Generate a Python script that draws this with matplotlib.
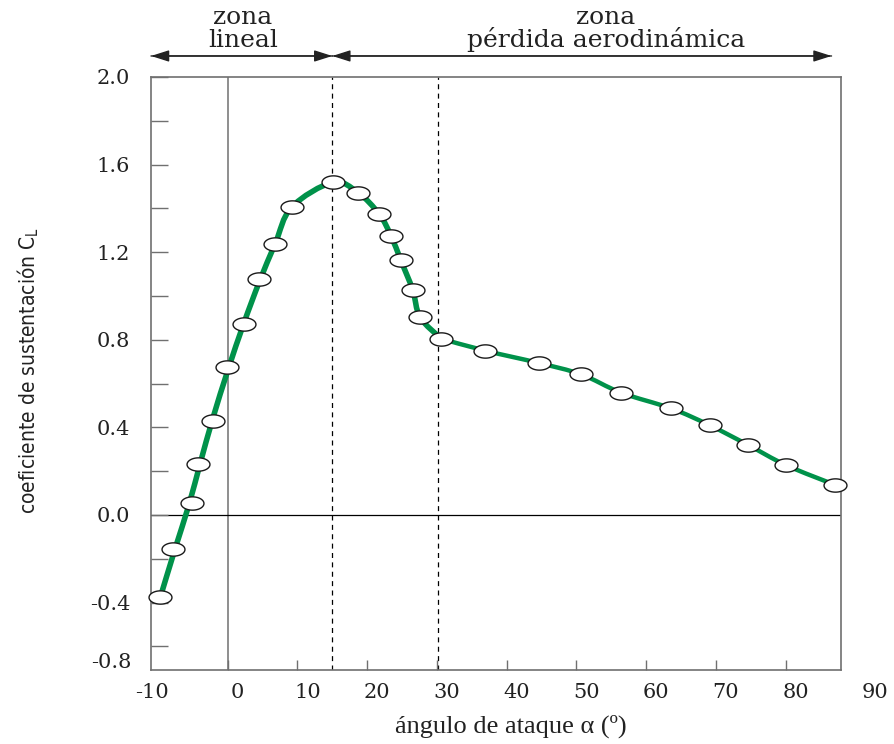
import numpy as np
import matplotlib
matplotlib.use("Agg")
import matplotlib.pyplot as plt
from matplotlib.path import Path
from matplotlib.patches import PathPatch
from matplotlib.transforms import ScaledTranslation

# ---- data ----
alpha = [-9.64, -7.80, -5.08, -4.26, -2.11, -0.03, 2.38, 4.53, 6.79, 9.18,
         15.06, 18.69, 21.75, 23.43, 24.82, 26.54, 27.59, 30.60,
         36.96, 44.62, 50.69, 56.43, 63.56, 69.10, 74.55, 80.10, 87.13]
cl = [-0.373, -0.157, 0.056, 0.233, 0.429, 0.676, 0.874, 1.078, 1.237, 1.406,
      1.519, 1.472, 1.373, 1.274, 1.164, 1.027, 0.903, 0.805,
      0.750, 0.694, 0.642, 0.558, 0.487, 0.410, 0.321, 0.227, 0.137]
n_rise = 10                       # points of the (fitted, smoothed) linear zone
n_first = 18                      # points in the smooth lift/stall branch
stall_lines = [15, 30.2]          # dashed zone limits
x_ticks = [0, 10, 20, 30, 40, 50, 60, 70, 80]
x_ticklabels = ["0", "10", "20", "30", "40", "50", "60", "70", "80"]
y_major = [-0.4, 0.0, 0.4, 0.8, 1.2, 1.6, 2.0]
y_major_labels = ["-0.4", "0.0", "0.4", "0.8", "1.2", "1.6", "2.0"]
y_minor = [-0.6, -0.2, 0.2, 0.6, 1.0, 1.4, 1.8]
zone_left = "zona\nlineal"
zone_right = "zona\npérdida aerodinámica"

GREEN = "#00924a"
GREY = "#707070"
TXT = "#222222"

fig = plt.figure(figsize=(8.95, 7.44), dpi=100)
ax = fig.add_axes([151 / 895, 1 - 670 / 744, (841.3 - 151) / 895, (670 - 77) / 744])
ax.set_xlim(-11.0, 88.0)
ax.set_ylim(-0.708, 2.0)


def catmull_path(P):
    n = len(P)
    verts = [P[0]]
    codes = [Path.MOVETO]
    for i in range(n - 1):
        p0 = P[i - 1] if i > 0 else P[i]
        p1 = P[i]
        p2 = P[i + 1]
        p3 = P[i + 2] if i + 2 < n else P[i + 1]
        c1 = p1 + (p2 - p0) / 6.0
        c2 = p2 - (p3 - p1) / 6.0
        verts += [c1, c2, p2]
        codes += [Path.CURVE4] * 3
    return Path(verts, codes)


# fitted curve: light smoothing of the scattered points of the linear zone
P = np.column_stack([alpha, cl]).astype(float)
S = P.copy()
for i in range(1, n_rise - 1):
    S[i] = (P[i - 1] + 2 * P[i] + P[i + 1]) / 4.0

# reference lines
ax.axvline(0, color=GREY, lw=1.1, zorder=1)
ax.axhline(0, color="black", lw=0.9, zorder=1)
for xv in stall_lines:
    ax.axvline(xv, color="black", lw=0.9, ls=(0, (4, 3.5)), zorder=1)

# curve
ax.add_patch(PathPatch(catmull_path(S[:n_first]), fill=False, edgecolor=GREEN,
                       lw=4.0, capstyle="round", joinstyle="round", zorder=2))
ax.add_patch(PathPatch(catmull_path(S[n_first - 1:]), fill=False, edgecolor=GREEN,
                       lw=3.2, capstyle="round", joinstyle="round", zorder=2))

# elliptical markers
t = np.linspace(0, 2 * np.pi, 64)
ell = Path(np.column_stack([np.cos(t), 0.58 * np.sin(t)]), closed=True)
ax.plot(alpha, cl, ls="none", marker=ell, ms=16.5, mfc="white", mec="#1a1a1a",
        mew=1.0, zorder=3, clip_on=False)

# spines / ticks
for s in ax.spines.values():
    s.set_color(GREY)
    s.set_linewidth(1.2)

TICKFONT = dict(family="DejaVu Serif", size=15)
ax.set_xticks(x_ticks)
ax.set_xticklabels(x_ticklabels)
ax.tick_params(axis="x", direction="in", length=7.5, width=1.0, color=GREY,
               pad=9)
ax.set_yticks(y_major)
ax.set_yticklabels(y_major_labels)
ax.set_yticks(y_minor, minor=True)
ax.tick_params(axis="y", which="both", direction="in", length=12, width=1.0,
               color=GREY, pad=15)
for lab in ax.get_xticklabels() + ax.get_yticklabels():
    lab.set_fontfamily(TICKFONT["family"])
    lab.set_fontsize(TICKFONT["size"])
    lab.set_color(TXT)
off = ScaledTranslation(10 / 100, 0, fig.dpi_scale_trans)
for lab in ax.get_xticklabels():
    lab.set_transform(lab.get_transform() + off)

# extra edge labels as in the reference
fig.text(152 / 895, 1 - 692 / 744, "-10", ha="center", va="center",
         color=TXT, **TICKFONT)
fig.text(875 / 895, 1 - 692 / 744, "90", ha="center", va="center",
         color=TXT, **TICKFONT)
fig.text(131 / 895, 1 - 662 / 744, "-0.8", ha="right", va="center",
         color=TXT, **TICKFONT)

# axis labels
fig.text(511 / 895, 1 - 726 / 744, "ángulo de ataque α (º)", ha="center",
         va="center", family=["Liberation Serif", "DejaVu Serif"], fontsize=19,
         color=TXT)
fig.text(28 / 895, 1 - 370 / 744,
         "coeficiente de sustentación $\\mathregular{C_L}$", rotation=90,
         ha="center", va="center",
         family=["Liberation Sans Narrow", "DejaVu Sans"],
         fontstretch="condensed", fontsize=15, color=TXT)

# zone arrows
arrow_y = 2.096
ap = dict(arrowstyle="-|>,head_length=1.1,head_width=0.35",
          color=TXT, lw=1.0, shrinkA=0, shrinkB=0)
for a, b in [(-11.0, 15), (15, -11.0), (86.6, 15), (15, 86.6)]:
    ax.annotate("", xy=(a, arrow_y), xytext=(b, arrow_y), xycoords="data",
                arrowprops=ap, annotation_clip=False)

tf = dict(ha="center", va="center", multialignment="center",
          family="DejaVu Serif", fontsize=18, color=TXT, linespacing=0.95)
fig.text(243 / 895, 1 - 29 / 744, zone_left, **tf)
fig.text(606 / 895, 1 - 29 / 744, zone_right, **tf)

fig.savefig("out.png", dpi=100)
